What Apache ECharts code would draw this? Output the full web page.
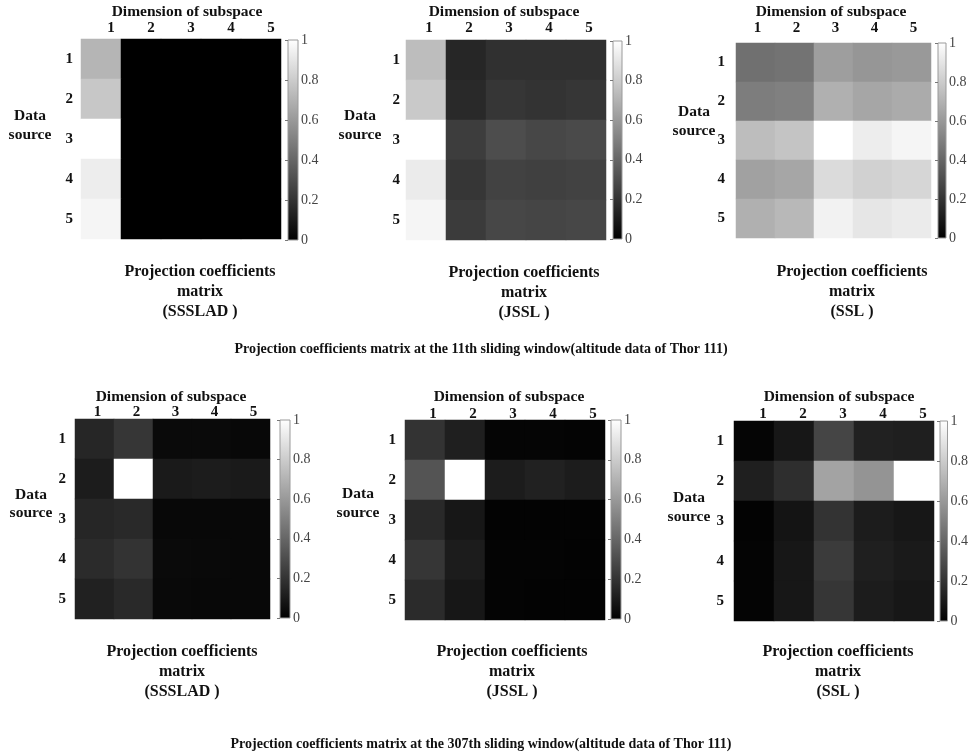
<!DOCTYPE html>
<html>
<head>
<meta charset="utf-8">
<script src="https://cdn.jsdelivr.net/npm/echarts@6/dist/echarts.min.js"></script>
<style>
  html, body { margin: 0; padding: 0; background: #fff; }
  #chart { width: 971px; height: 755px; }
</style>
</head>
<body>
<div id="chart"></div>
<script>
// Axis categories (dimension of subspace / data source)
const dims = ['1', '2', '3', '4', '5'];
const sources = ['1', '2', '3', '4', '5'];
const methods = ['SSSLAD', 'JSSL', 'SSL'];
const windows = ['11th', '307th'];

// Projection coefficient matrices, rows = data source, cols = subspace dimension
const sssladW11 = [
  [0.71, 0, 0, 0, 0],
  [0.78, 0, 0, 0, 0],
  [1.00, 0, 0, 0, 0],
  [0.93, 0, 0, 0, 0],
  [0.96, 0, 0, 0, 0]
];
const jsslW11 = [
  [0.74, 0.15, 0.19, 0.19, 0.19],
  [0.79, 0.16, 0.21, 0.20, 0.21],
  [1.00, 0.24, 0.30, 0.28, 0.29],
  [0.92, 0.21, 0.26, 0.25, 0.26],
  [0.96, 0.23, 0.28, 0.27, 0.28]
];
const sslW11 = [
  [0.44, 0.45, 0.62, 0.59, 0.60],
  [0.49, 0.50, 0.69, 0.65, 0.67],
  [0.74, 0.77, 1.00, 0.93, 0.96],
  [0.63, 0.65, 0.86, 0.82, 0.84],
  [0.69, 0.72, 0.95, 0.90, 0.92]
];
const sssladW307 = [
  [0.15, 0.21, 0.04, 0.04, 0.03],
  [0.11, 1.00, 0.10, 0.11, 0.10],
  [0.15, 0.16, 0.03, 0.03, 0.03],
  [0.17, 0.20, 0.04, 0.035, 0.03],
  [0.13, 0.16, 0.035, 0.03, 0.03]
];
const jsslW307 = [
  [0.20, 0.12, 0.02, 0.02, 0.015],
  [0.33, 1.00, 0.11, 0.13, 0.11],
  [0.16, 0.09, 0.01, 0.01, 0.01],
  [0.21, 0.11, 0.015, 0.015, 0.01],
  [0.17, 0.09, 0.015, 0.01, 0.01]
];
const sslW307 = [
  [0.02, 0.09, 0.27, 0.13, 0.12],
  [0.12, 0.18, 0.64, 0.58, 1.00],
  [0.01, 0.08, 0.20, 0.11, 0.09],
  [0.015, 0.09, 0.23, 0.12, 0.10],
  [0.015, 0.09, 0.21, 0.11, 0.09]
];

const matrices = [sssladW11, jsslW11, sslW11, sssladW307, jsslW307, sslW307];

// Panel placement (pixels); heatmap sizes are multiples of 5 so cells land on whole pixels
const panels = [
  { grid: [81, 39, 200, 200],  cbar: [288, 40, 10, 200],  xShift: 10, xMargin: 3,  yMargin: 8,  dim: [187, 12],  data: [30, 116, 135],  cap: [200, 262] },
  { grid: [406, 40, 200, 200], cbar: [613, 41, 9, 198],   xShift: 3,  xMargin: 4,  yMargin: 6,  dim: [504, 12],  data: [360, 116, 135], cap: [524, 263] },
  { grid: [736, 43, 195, 195], cbar: [938, 43, 8, 195],   xShift: 2,  xMargin: 7,  yMargin: 11, dim: [831, 12],  data: [694, 112, 131], cap: [852, 262] },
  { grid: [75, 419, 195, 200], cbar: [280, 420, 10, 198], xShift: 3,  xMargin: -1, yMargin: 9,  dim: [171, 397], data: [31, 495, 513],  cap: [182, 642] },
  { grid: [405, 420, 200, 200], cbar: [611, 420, 10, 199], xShift: 8, xMargin: -2, yMargin: 9,  dim: [509, 397], data: [358, 494, 513], cap: [512, 642] },
  { grid: [734, 421, 200, 200], cbar: [940, 421, 11, 200], xShift: 9, xMargin: -1, yMargin: 10, dim: [839, 397], data: [689, 498, 517], cap: [838, 642] }
];
const titleY = [349, 744];

const FONT = '"Liberation Serif", "Times New Roman", serif';

// Grey colour bar fill: white at the top (1), black at the bottom (0)
const barFill = new echarts.graphic.LinearGradient(0, 0, 0, 1, [
  { offset: 0, color: '#ffffff' },
  { offset: 1, color: '#000000' }
]);

const grids = [], xAxes = [], yAxes = [], series = [], visualMaps = [], graphics = [];

panels.forEach((p, i) => {
  grids.push({ left: p.grid[0], top: p.grid[1], width: p.grid[2], height: p.grid[3], containLabel: false });
  xAxes.push({
    type: 'category', gridIndex: i, data: dims, position: 'top',
    axisLine: { show: false }, axisTick: { show: false }, splitLine: { show: false },
    axisLabel: {
      margin: p.xMargin, fontFamily: FONT, fontWeight: 'bold', fontSize: 15, color: '#111',
      padding: [0, 0, 0, p.xShift * 2]
    }
  });
  yAxes.push({
    type: 'category', gridIndex: i, data: sources, inverse: true,
    axisLine: { show: false }, axisTick: { show: false }, splitLine: { show: false },
    axisLabel: { margin: p.yMargin, fontFamily: FONT, fontWeight: 'bold', fontSize: 15, color: '#111' }
  });
  const data = [];
  matrices[i].forEach((row, r) => row.forEach((v, c) => data.push([c, r, v])));
  series.push({
    type: 'heatmap', xAxisIndex: i, yAxisIndex: i, data: data,
    itemStyle: { borderWidth: 0 },
    emphasis: { disabled: true },
    progressive: 0
  });
  visualMaps.push({
    type: 'continuous', seriesIndex: i, min: 0, max: 1, show: false,
    inRange: { color: ['#000000', '#ffffff'] }
  });
});

// Colour bars: a framed grid filled with the grey ramp, carrying the 0..1 scale
panels.forEach((p, i) => {
  const gi = panels.length + i;
  grids.push({
    left: p.cbar[0], top: p.cbar[1], width: p.cbar[2], height: p.cbar[3],
    show: true, borderColor: '#9a9a9a', borderWidth: 1, backgroundColor: barFill
  });
  xAxes.push({ type: 'value', gridIndex: gi, show: false, min: 0, max: 1 });
  yAxes.push({
    type: 'value', gridIndex: gi, min: 0, max: 1, interval: 0.2, position: 'right',
    axisLine: { show: false },
    axisTick: { show: true, inside: true, length: 3, lineStyle: { color: '#777' } },
    splitLine: { show: false },
    axisLabel: { margin: 3, fontFamily: FONT, fontSize: 14, color: '#444' }
  });
});

// Text annotations around each panel
panels.forEach((p, i) => {
  graphics.push({
    type: 'text', x: p.dim[0], y: p.dim[1],
    style: { text: 'Dimension of subspace', font: 'bold 15.5px ' + FONT, fill: '#111', textAlign: 'center', textVerticalAlign: 'middle' }
  });
  graphics.push({
    type: 'text', x: p.data[0], y: p.data[1],
    style: { text: 'Data', font: 'bold 15.5px ' + FONT, fill: '#111', textAlign: 'center', textVerticalAlign: 'middle' }
  });
  graphics.push({
    type: 'text', x: p.data[0], y: p.data[2],
    style: { text: 'source', font: 'bold 15.5px ' + FONT, fill: '#111', textAlign: 'center', textVerticalAlign: 'middle' }
  });
  graphics.push({
    type: 'text', x: p.cap[0], y: p.cap[1],
    style: {
      text: 'Projection coefficients\nmatrix\n(' + methods[i % 3] + ' )',
      font: 'bold 16px ' + FONT, lineHeight: 20, fill: '#111', textAlign: 'center', textVerticalAlign: 'top'
    }
  });
});
windows.forEach((w, k) => {
  graphics.push({
    type: 'text', x: 481, y: titleY[k],
    style: {
      text: 'Projection coefficients matrix at the ' + w + ' sliding window(altitude data of Thor 111)',
      font: 'bold 14px ' + FONT, fill: '#111', textAlign: 'center', textVerticalAlign: 'middle'
    }
  });
});

const chart = echarts.init(document.getElementById('chart'), null, { renderer: 'canvas' });
chart.setOption({
  animation: false,
  backgroundColor: '#ffffff',
  grid: grids,
  xAxis: xAxes,
  yAxis: yAxes,
  visualMap: visualMaps,
  series: series,
  graphic: graphics
});
</script>
</body>
</html>
